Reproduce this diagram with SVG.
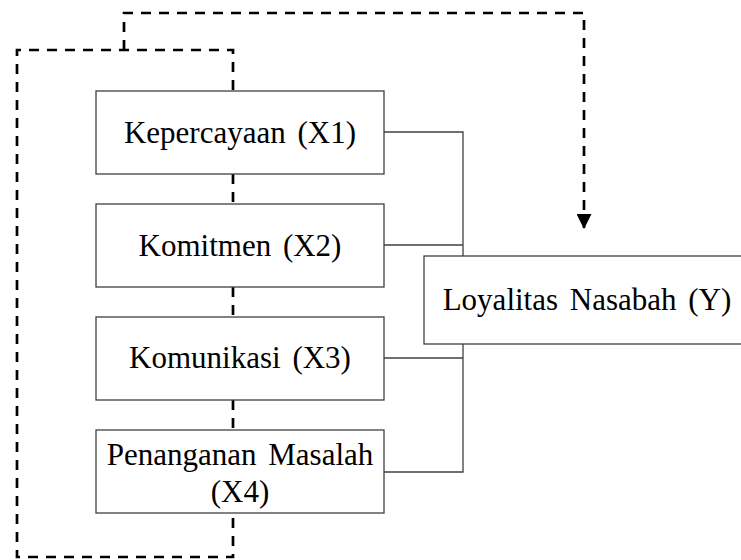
<svg xmlns="http://www.w3.org/2000/svg" width="741" height="560" viewBox="0 0 741 560">
<style>
.box{fill:#fff;stroke:#404040;stroke-width:1.3}
.lbl{font-family:"Liberation Serif","Times New Roman",serif;font-size:31px;fill:#000;text-anchor:middle;word-spacing:4px}
.dash{fill:none;stroke:#000;stroke-width:2.7;stroke-dasharray:10 8}
.solid{fill:none;stroke:#404040;stroke-width:1.3}
</style>
<defs>
<marker id="arr" markerWidth="16" markerHeight="15" refX="15" refY="7.5" orient="auto" markerUnits="userSpaceOnUse">
<path d="M0,0 L15,7.5 L0,15 Z" fill="#000"/>
</marker>
</defs>
<g id="connectors">
<path class="dash" d="M233,90 V50 H17 V557 H233 V513"/>
<path class="dash" d="M124,50 V13 H584 V229" marker-end="url(#arr)"/>
<path class="dash" d="M233,174 V204 M233,287 V317 M233,400 V430"/>
<path class="solid" d="M384,132 H463 V472 H384 M384,245 H463 M384,358 H463"/>
</g>
<g id="x1"><rect class="box" x="96" y="91" width="288" height="83"/><text class="lbl" x="240" y="143">Kepercayaan (X1)</text></g>
<g id="x2"><rect class="box" x="96" y="204" width="288" height="83"/><text class="lbl" x="240" y="256">Komitmen (X2)</text></g>
<g id="x3"><rect class="box" x="96" y="317" width="288" height="83"/><text class="lbl" x="240" y="368">Komunikasi (X3)</text></g>
<g id="x4"><rect class="box" x="96" y="430" width="288" height="83"/><text class="lbl" x="240" y="465">Penanganan Masalah</text><text class="lbl" x="240" y="502">(X4)</text></g>
<g id="y"><rect class="box" x="424" y="256" width="330" height="88"/><text class="lbl" x="587" y="310">Loyalitas Nasabah (Y)</text></g>
</svg>
